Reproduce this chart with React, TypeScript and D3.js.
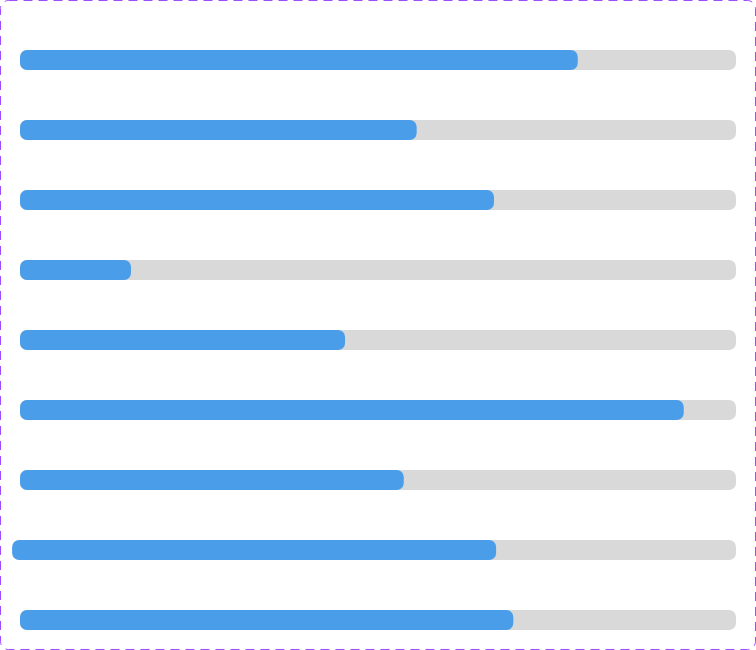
import React from "react";
import * as d3 from "d3";

const categories = ["A", "B", "C", "D", "E", "F", "G", "H", "I"];
const values = [77.9, 55.4, 66.2, 15.5, 45.4, 92.7, 53.6, 66.5, 68.9];
const starts = [0, 0, 0, 0, 0, 0, 0, -1.1, 0];
const maxValue = 100;

const W = 756;
const H = 650;

export default function App() {
  const x = d3.scaleLinear().domain([0, maxValue]).range([20, 736]);
  const y = d3
    .scaleBand<string>()
    .domain(categories)
    .range([25, 655])
    .paddingInner(0.7143)
    .paddingOuter(0.357);
  const bh = 20;
  const yPos = (c: string) => y(c)! + y.bandwidth() / 2 - bh / 2;
  return (
    <svg
      width={W}
      height={H}
      style={{ position: "absolute", left: 0, top: 0, display: "block" }}
    >
      <rect
        x={0.5}
        y={0.5}
        width={W - 1}
        height={H - 1}
        rx={8}
        fill="white"
        stroke="#a04cff"
        strokeWidth={1}
        strokeDasharray="9 6"
      />
      {categories.map((c, i) => (
        <g key={c}>
          <rect
            x={x(0)}
            y={yPos(c)}
            width={x(maxValue) - x(0)}
            height={bh}
            rx={7}
            fill="#d9d9d9"
          />
          <rect
            x={x(starts[i])}
            y={yPos(c)}
            width={x(values[i]) - x(starts[i])}
            height={bh}
            rx={7}
            fill="#4a9de9"
          />
        </g>
      ))}
    </svg>
  );
}
